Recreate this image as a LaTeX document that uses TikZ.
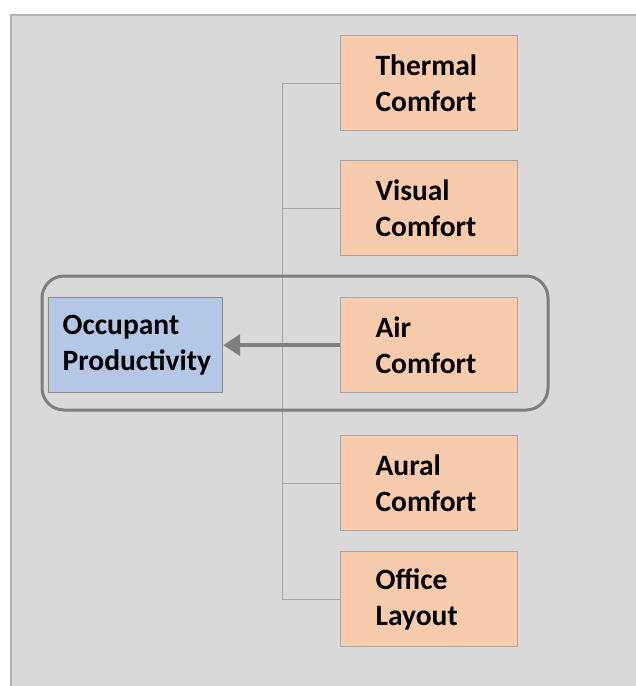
\documentclass[tikz,border=0pt]{standalone}
\usepackage{fontspec}
\setmainfont{Carlito}
\usetikzlibrary{arrows.meta}

\definecolor{panel}{HTML}{D9D9D9}
\definecolor{panelrim}{HTML}{B3B3B3}
\definecolor{factorfill}{HTML}{F8CBAD}
\definecolor{factorrim}{HTML}{A6A6A6}
\definecolor{goalfill}{HTML}{B4C7E7}
\definecolor{goalrim}{HTML}{8C8C8C}
\definecolor{linkgray}{HTML}{7F7F7F}

\begin{document}
\begin{tikzpicture}[
	x = 1pt, y = -1pt,
	box/.style = {draw, line width=1.2pt, anchor=north west,
		minimum height=95pt, align=left,
		font=\fontsize{29.5}{36}\selectfont\bfseries},
	factor/.style = {box, fill=factorfill, draw=factorrim,
		inner xsep=35pt, text width=107pt},
	goal/.style = {box, fill=goalfill, draw=goalrim,
		inner xsep=14pt, text width=146pt},
	branch/.style = {draw=factorrim, line width=0.8pt},
	link/.style = {draw=linkgray, line width=4pt,
		-{Triangle[length=17pt,width=21pt]}}
	]
	\useasboundingbox (0,0) rectangle (636,686);
	% panel
	\fill [panel] (10,14) rectangle (636,686);
	\draw [panelrim, line width=2pt] (11,686) -- (11,15) -- (636,15);
	% boxes
	\node [factor] (thermal) at (340,35) {Thermal\\Comfort};
	\node [factor] (visual) at (340,160) {Visual\\Comfort};
	\node [factor] (air) at (340,297) {Air\\Comfort};
	\node [factor] (aural) at (340,435) {Aural\\Comfort};
	\node [factor] (office) at (340,551) {Office\\Layout};
	\node [goal] (occupant) at (48,297) {Occupant\\Productivity};
	% tree
	\coordinate (spine) at (282,0);
	\draw [branch] (thermal.west) -- (thermal.west -| spine)
		-- (office.west -| spine) -- (office.west);
	\draw [branch] (visual.west) -- (visual.west -| spine);
	\draw [branch] (aural.west) -- (aural.west -| spine);
	% highlight
	\draw [linkgray, line width=3pt, rounded corners=22pt] (42,276) rectangle (548,410);
	\draw [link] (air.west) -- (occupant.east);
\end{tikzpicture}
\end{document}
